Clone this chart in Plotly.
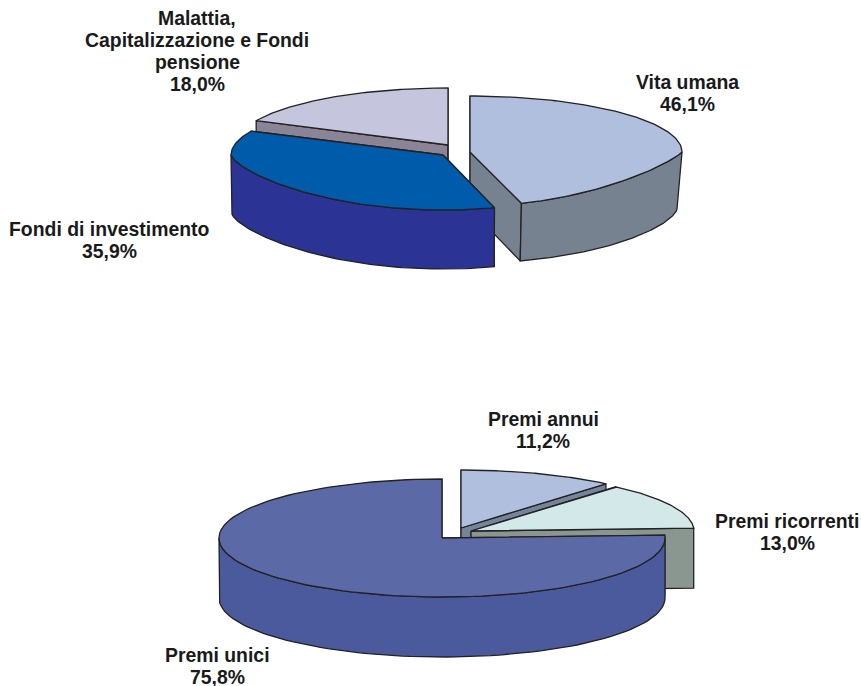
import numpy as np
import plotly.graph_objects as go

# ------------------------------------------- Data -------------------------------------------

top_labels = [["Vita umana"], ["Fondi di investimento"], ["Malattia,", "Capitalizzazione e Fondi", "pensione"]]
top_shares = [46.1, 35.9, 18.0]

bottom_labels = [["Premi annui"], ["Premi ricorrenti"], ["Premi unici"]]
bottom_shares = [11.2, 13.0, 75.8]

# ------------------------------------------- Styles -------------------------------------------

# p / wall_p flatten the front of the rim, wall_rx pulls the lower rim in (the original has some perspective)
top_style = [
    {"apex": (470, 152), "face": "#B0BFDD", "wall": "#76828F", "label": (687, 82), "rx": 212, "ry": 56,
     "ry_front": 54, "p": 1.7, "wall_rx": 207, "wall_p": 1.3, "depth": 57},
    {"apex": (443, 155), "face": "#005BAA", "wall": "#2B3494", "label": (109, 229), "rx": 212, "ry": 56,
     "ry_front": 55, "p": 1.4, "wall_rx": 211, "wall_p": 1.4, "depth": 59},
    {"apex": (448, 145), "face": "#C5C6DE", "wall": "#8B8496", "label": (197, 18), "rx": 212, "ry": 57,
     "ry_front": 57, "p": 1, "wall_rx": 212, "wall_p": 1, "depth": 60},
]
bottom_style = [
    {"apex": (461, 528), "face": "#B0BFDD", "wall": "#76849A", "label": (543, 419), "rx": 224, "ry": 58,
     "ry_front": 58, "p": 1, "wall_rx": 224, "wall_p": 1, "depth": 60},
    {"apex": (471, 531), "face": "#D3E8E9", "wall": "#8A9790", "label": (787, 521), "rx": 223, "ry": 58,
     "ry_front": 58, "p": 1, "wall_rx": 223, "wall_p": 1, "depth": 60},
    {"apex": (442, 538), "face": "#5B69A7", "wall": "#4A5A9C", "label": (217, 655), "rx": 223, "ry": 59,
     "ry_front": 59, "p": 1, "wall_rx": 223, "wall_p": 1, "depth": 60},
]
LINE_STEP = 22
EDGE = "#222222"


def rim(style, t, rx=None, p=None):
    """Points on the slice's outer rim, t in degrees clockwise from 12 o'clock"""
    rad = np.radians(t)
    cos = np.cos(rad)
    rx = style["rx"] if rx is None else rx
    p = style["p"] if p is None else p
    x = style["apex"][0] + rx * np.sin(rad)
    y = style["apex"][1] + np.where(cos > 0, -style["ry"] * cos, style["ry_front"] * np.abs(cos) ** p)
    return x, y


def lower_rim(style, t):
    x, y = rim(style, t, style["wall_rx"], style["wall_p"])
    return x, y + style["depth"]


def polygon(fig, x, y, color):
    fig.add_trace(go.Scatter(x=x, y=y, mode="lines", fill="toself", fillcolor=color,
                             line=dict(color=EDGE, width=1.3), hoverinfo="skip", showlegend=False))


def add_slice(fig, style, t0, t1):
    ax, ay = style["apex"]

    # Cut faces
    for t in (t0, t1):
        x, y = rim(style, np.array([t]))
        xb, yb = lower_rim(style, np.array([t]))
        polygon(fig, [ax, x[0], xb[0], ax, ax], [ay, y[0], yb[0], ay + style["depth"], ay], style["wall"])

    # Outer wall, only the front half of the rim shows
    w0, w1 = max(t0, 90), min(t1, 270)
    if w1 > w0:
        ts = np.linspace(w0, w1, 80)
        x, y = rim(style, ts)
        xb, yb = lower_rim(style, ts)
        polygon(fig, np.r_[x, xb[::-1], x[0]], np.r_[y, yb[::-1], y[0]], style["wall"])

    # Top surface
    x, y = rim(style, np.linspace(t0, t1, 120))
    polygon(fig, np.r_[ax, x, ax], np.r_[ay, y, ay], style["face"])


def add_pie(fig, labels, shares, styles, order):
    edges = np.r_[0, np.cumsum(shares)] * 3.6
    for i in order:
        add_slice(fig, styles[i], edges[i], edges[i + 1])
    for i in range(len(labels)):
        value = "{:.1f}%".format(shares[i]).replace(".", ",")
        # One annotation per line, the reference's line spacing is tighter than plotly's
        for j, line in enumerate(labels[i] + [value]):
            fig.add_annotation(x=styles[i]["label"][0], y=styles[i]["label"][1] + j * LINE_STEP, text=line,
                               showarrow=False, xanchor="center", yanchor="middle")


fig = go.Figure()
add_pie(fig, top_labels, top_shares, top_style, [2, 0, 1])
add_pie(fig, bottom_labels, bottom_shares, bottom_style, [0, 1, 2])

fig.update_layout(
    width=861, height=686, margin=dict(l=0, r=0, t=0, b=0),
    paper_bgcolor="white", plot_bgcolor="white", showlegend=False,
    font=dict(family="Liberation Sans", size=19.4, color="#1A1A1A", weight=700),
    xaxis=dict(range=[0, 861], visible=False, fixedrange=True),
    yaxis=dict(range=[686, 0], visible=False, fixedrange=True),
)
# The page's default body margin would push the figure 8px off
fig.write_html("out.html", config=dict(displayModeBar=False),
               post_script="document.body.style.margin = '0';")
